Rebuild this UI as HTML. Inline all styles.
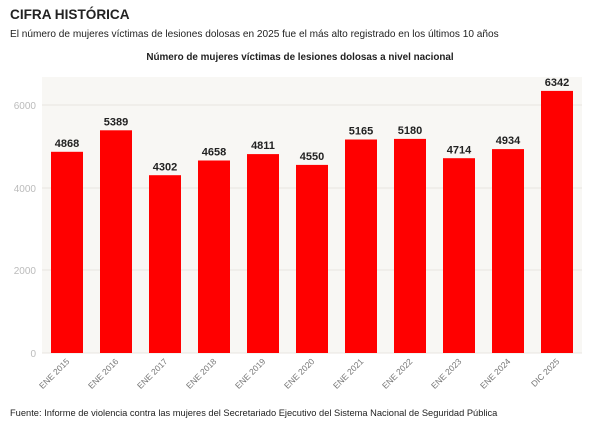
<!DOCTYPE html><html><head><meta charset="utf-8"><style>body{margin:0;width:600px;height:423px;background:#fff;font-family:"Liberation Sans",sans-serif;overflow:hidden}</style></head><body>
<svg width="600" height="423" xmlns="http://www.w3.org/2000/svg" font-family="Liberation Sans, sans-serif">
<text x="10" y="19" font-size="13.6" font-weight="bold" fill="#222">CIFRA HISTÓRICA</text>
<text x="10" y="37" font-size="10.1" fill="#222">El número de mujeres víctimas de lesiones dolosas en 2025 fue el más alto registrado en los últimos 10 años</text>
<text x="300" y="60" font-size="9.9" font-weight="bold" fill="#222" text-anchor="middle">Número de mujeres víctimas de lesiones dolosas a nivel nacional</text>
<rect x="42" y="77" width="540" height="276" fill="#f8f7f4"/>
<g stroke="#e8e6e0" stroke-width="1">
<line x1="42" x2="582" y1="105" y2="105"/><line x1="42" x2="582" y1="188" y2="188"/><line x1="42" x2="582" y1="270" y2="270"/><line x1="42" x2="582" y1="353" y2="353"/></g>
<g font-size="10" fill="#bbb" text-anchor="end">
<text x="36" y="109">6000</text><text x="36" y="192">4000</text><text x="36" y="274">2000</text><text x="36" y="357">0</text></g>
<g fill="#ff0000">
<rect x="51" y="151.8" width="32" height="201.2"/>
<rect x="100" y="130.3" width="32" height="222.7"/>
<rect x="149" y="175.2" width="32" height="177.8"/>
<rect x="198" y="160.5" width="32" height="192.5"/>
<rect x="247" y="154.1" width="32" height="198.9"/>
<rect x="296" y="164.9" width="32" height="188.1"/>
<rect x="345" y="139.5" width="32" height="213.5"/>
<rect x="394" y="138.9" width="32" height="214.1"/>
<rect x="443" y="158.2" width="32" height="194.8"/>
<rect x="492" y="149.1" width="32" height="203.9"/>
<rect x="541" y="90.9" width="32" height="262.1"/>
</g>
<g font-size="11" font-weight="bold" fill="#222" text-anchor="middle">
<text x="67" y="147">4868</text>
<text x="116" y="125.5">5389</text>
<text x="165" y="170.5">4302</text>
<text x="214" y="155.5">4658</text>
<text x="263" y="149">4811</text>
<text x="312" y="160">4550</text>
<text x="361" y="134.5">5165</text>
<text x="410" y="134">5180</text>
<text x="459" y="153.5">4714</text>
<text x="508" y="144">4934</text>
<text x="557" y="86">6342</text>
</g>
<g font-size="8.5" fill="#777" text-anchor="end">
<text transform="translate(70,362) rotate(-45)">ENE 2015</text>
<text transform="translate(119,362) rotate(-45)">ENE 2016</text>
<text transform="translate(168,362) rotate(-45)">ENE 2017</text>
<text transform="translate(217,362) rotate(-45)">ENE 2018</text>
<text transform="translate(266,362) rotate(-45)">ENE 2019</text>
<text transform="translate(315,362) rotate(-45)">ENE 2020</text>
<text transform="translate(364,362) rotate(-45)">ENE 2021</text>
<text transform="translate(413,362) rotate(-45)">ENE 2022</text>
<text transform="translate(462,362) rotate(-45)">ENE 2023</text>
<text transform="translate(511,362) rotate(-45)">ENE 2024</text>
<text transform="translate(560,362) rotate(-45)">DIC 2025</text>
</g>
<text x="10" y="416" font-size="9.3" fill="#222">Fuente: Informe de violencia contra las mujeres del Secretariado Ejecutivo del Sistema Nacional de Seguridad Pública</text>
</svg></body></html>
